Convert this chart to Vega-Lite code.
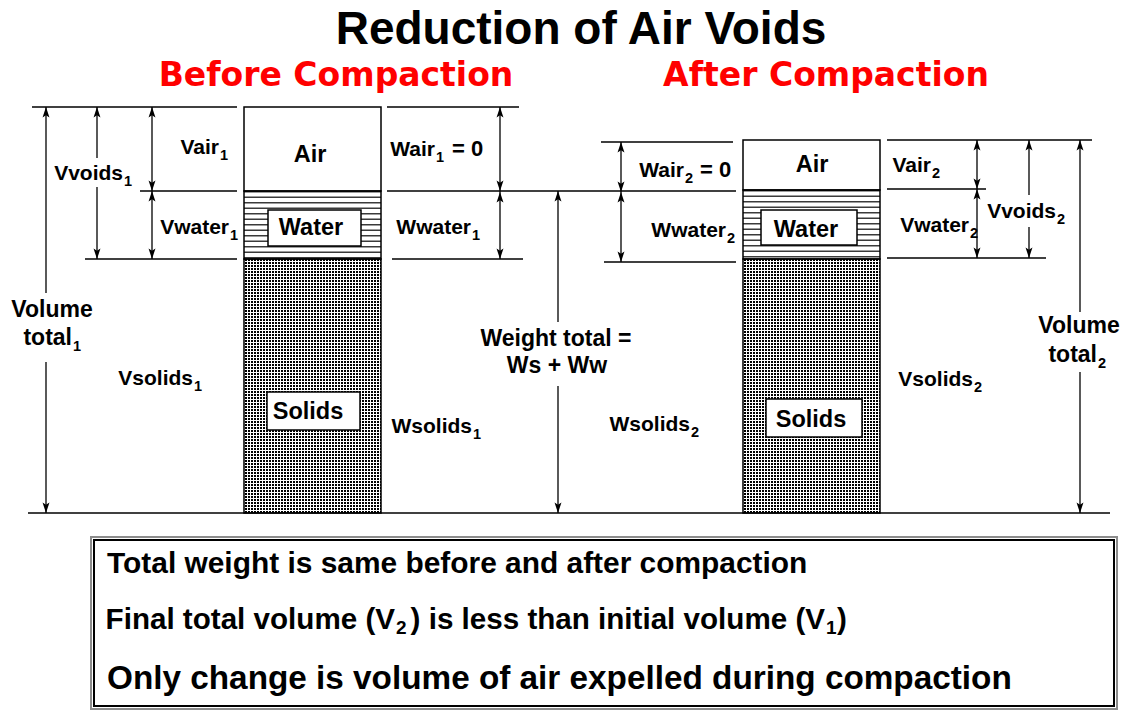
{
  "$schema": "https://vega.github.io/schema/vega-lite/v6.json",
  "width": 1127,
  "height": 712,
  "padding": 0,
  "autosize": {"type": "none"},
  "background": "white",
  "config": {"view": {"stroke": null}},
  "datasets": {
    "regions": [
      {"box": "before", "part": "air", "x": 244, "x2": 381, "y": 107, "y2": 191, "xm": 312.5, "ym": 149},
      {"box": "before", "part": "water", "x": 244, "x2": 381, "y": 191, "y2": 259, "xm": 312.5, "ym": 225},
      {"box": "before", "part": "solids", "x": 244, "x2": 381, "y": 259, "y2": 513, "xm": 312.5, "ym": 386},
      {"box": "after", "part": "air", "x": 743, "x2": 880, "y": 140, "y2": 190, "xm": 811.5, "ym": 165},
      {"box": "after", "part": "water", "x": 743, "x2": 880, "y": 190, "y2": 259, "xm": 811.5, "ym": 224.5},
      {"box": "after", "part": "solids", "x": 743, "x2": 880, "y": 259, "y2": 513, "xm": 811.5, "ym": 386}
    ],
    "labelboxes": [
      {"x": 268, "x2": 361, "y": 210, "y2": 246},
      {"x": 267, "x2": 360, "y": 392, "y2": 430},
      {"x": 761, "x2": 857, "y": 210, "y2": 245},
      {"x": 766, "x2": 862, "y": 399, "y2": 437}
    ],
    "frames": [
      {"k": "outer", "x": 91, "x2": 1117, "y": 537, "y2": 709},
      {"k": "inner", "x": 94, "x2": 1114, "y": 540, "y2": 706}
    ],
    "lines": [
      {"x": 32, "x2": 237, "y": 107, "y2": 107},
      {"x": 387, "x2": 519, "y": 107, "y2": 107},
      {"x": 140, "x2": 237, "y": 191, "y2": 191},
      {"x": 85, "x2": 237, "y": 259, "y2": 259},
      {"x": 387, "x2": 736, "y": 191, "y2": 191},
      {"x": 392, "x2": 523, "y": 259, "y2": 259},
      {"x": 601, "x2": 733, "y": 142, "y2": 142},
      {"x": 604, "x2": 736, "y": 262, "y2": 262},
      {"x": 887, "x2": 1092, "y": 140, "y2": 140},
      {"x": 887, "x2": 986, "y": 189, "y2": 189},
      {"x": 887, "x2": 1046, "y": 258, "y2": 258},
      {"x": 28, "x2": 1110, "y": 513, "y2": 513},
      {"x": 46, "x2": 46, "y": 107, "y2": 293},
      {"x": 46, "x2": 46, "y": 362, "y2": 513},
      {"x": 97, "x2": 97, "y": 107, "y2": 158},
      {"x": 97, "x2": 97, "y": 187, "y2": 259},
      {"x": 152, "x2": 152, "y": 107, "y2": 259},
      {"x": 500, "x2": 500, "y": 107, "y2": 259},
      {"x": 558, "x2": 558, "y": 191, "y2": 322},
      {"x": 558, "x2": 558, "y": 386, "y2": 513},
      {"x": 621, "x2": 621, "y": 142, "y2": 262},
      {"x": 977, "x2": 977, "y": 140, "y2": 258},
      {"x": 1029, "x2": 1029, "y": 140, "y2": 195},
      {"x": 1029, "x2": 1029, "y": 227, "y2": 258},
      {"x": 1080, "x2": 1080, "y": 140, "y2": 312},
      {"x": 1080, "x2": 1080, "y": 372, "y2": 513}
    ],
    "heads": [
      {"x": 46, "y": 107, "dir": "up"}, {"x": 46, "y": 513, "dir": "down"},
      {"x": 97, "y": 107, "dir": "up"}, {"x": 97, "y": 259, "dir": "down"},
      {"x": 152, "y": 107, "dir": "up"}, {"x": 152, "y": 191, "dir": "down"},
      {"x": 152, "y": 191, "dir": "up"}, {"x": 152, "y": 259, "dir": "down"},
      {"x": 500, "y": 107, "dir": "up"}, {"x": 500, "y": 191, "dir": "down"},
      {"x": 500, "y": 192, "dir": "up"}, {"x": 500, "y": 259, "dir": "down"},
      {"x": 558, "y": 191, "dir": "up"}, {"x": 558, "y": 513, "dir": "down"},
      {"x": 621, "y": 142, "dir": "up"}, {"x": 621, "y": 192, "dir": "down"},
      {"x": 621, "y": 192, "dir": "up"}, {"x": 621, "y": 262, "dir": "down"},
      {"x": 977, "y": 140, "dir": "up"}, {"x": 977, "y": 189, "dir": "down"},
      {"x": 977, "y": 189, "dir": "up"}, {"x": 977, "y": 258, "dir": "down"},
      {"x": 1029, "y": 140, "dir": "up"}, {"x": 1029, "y": 258, "dir": "down"},
      {"x": 1080, "y": 140, "dir": "up"}, {"x": 1080, "y": 513, "dir": "down"}
    ],
    "texts": [
      {"k": "title", "x": 581, "y": 44, "t": "Reduction of Air Voids"},
      {"k": "head", "x": 336, "y": 86, "t": "Before Compaction"},
      {"k": "head", "x": 826, "y": 86, "t": "After Compaction"},
      {"k": "lab", "x": 123, "y": 180, "t": "Vvoids"},
      {"k": "sub", "x": 124, "y": 186, "t": "1"},
      {"k": "lab", "x": 219, "y": 154, "t": "Vair"},
      {"k": "sub", "x": 220, "y": 160, "t": "1"},
      {"k": "lab", "x": 229, "y": 234, "t": "Vwater"},
      {"k": "sub", "x": 230, "y": 240, "t": "1"},
      {"k": "lab", "x": 193, "y": 385, "t": "Vsolids"},
      {"k": "sub", "x": 194, "y": 391, "t": "1"},
      {"k": "lab", "x": 435, "y": 156, "t": "Wair"},
      {"k": "sub", "x": 436, "y": 162, "t": "1"},
      {"k": "labL", "x": 452, "y": 156, "t": "= 0"},
      {"k": "lab", "x": 471, "y": 234, "t": "Wwater"},
      {"k": "sub", "x": 472, "y": 240, "t": "1"},
      {"k": "lab", "x": 472, "y": 433, "t": "Wsolids"},
      {"k": "sub", "x": 473, "y": 439, "t": "1"},
      {"k": "lab", "x": 690, "y": 431, "t": "Wsolids"},
      {"k": "sub", "x": 691, "y": 437, "t": "2"},
      {"k": "lab", "x": 684, "y": 177, "t": "Wair"},
      {"k": "sub", "x": 685, "y": 183, "t": "2"},
      {"k": "labL", "x": 700, "y": 177, "t": "= 0"},
      {"k": "lab", "x": 726, "y": 237, "t": "Wwater"},
      {"k": "sub", "x": 727, "y": 243, "t": "2"},
      {"k": "lab", "x": 931, "y": 172, "t": "Vair"},
      {"k": "sub", "x": 932, "y": 178, "t": "2"},
      {"k": "lab", "x": 969, "y": 232, "t": "Vwater"},
      {"k": "sub", "x": 970, "y": 238, "t": "2"},
      {"k": "lab", "x": 1056, "y": 218, "t": "Vvoids"},
      {"k": "sub", "x": 1057, "y": 224, "t": "2"},
      {"k": "lab", "x": 973, "y": 386, "t": "Vsolids"},
      {"k": "sub", "x": 974, "y": 392, "t": "2"},
      {"k": "big", "x": 52, "y": 317, "t": "Volume"},
      {"k": "bigR", "x": 72, "y": 345, "t": "total"},
      {"k": "sub", "x": 73, "y": 351, "t": "1"},
      {"k": "big", "x": 556, "y": 346, "t": "Weight total ="},
      {"k": "big", "x": 557, "y": 373, "t": "Ws + Ww"},
      {"k": "big", "x": 1079, "y": 333, "t": "Volume"},
      {"k": "bigR", "x": 1097, "y": 362, "t": "total"},
      {"k": "sub", "x": 1098, "y": 368, "t": "2"},
      {"k": "box", "x": 310, "y": 162, "t": "Air"},
      {"k": "box", "x": 311, "y": 235, "t": "Water"},
      {"k": "box", "x": 308, "y": 419, "t": "Solids"},
      {"k": "box", "x": 812, "y": 172, "t": "Air"},
      {"k": "box", "x": 806, "y": 237, "t": "Water"},
      {"k": "box", "x": 811, "y": 427, "t": "Solids"},
      {"k": "note1", "x": 107, "y": 573, "t": "Total weight is same before and after compaction"},
      {"k": "note2R", "x": 395, "y": 629, "t": "Final total volume (V"},
      {"k": "noteSub", "x": 396, "y": 634, "t": "2"},
      {"k": "note2R", "x": 825, "y": 629, "t": ") is less than initial volume (V"},
      {"k": "noteSub", "x": 826, "y": 634, "t": "1"},
      {"k": "note2L", "x": 837, "y": 629, "t": ")"},
      {"k": "note3", "x": 107, "y": 689, "t": "Only change is volume of air expelled during compaction"}
    ]
  },
  "layer": [
    {
      "data": {"name": "regions"},
      "transform": [{"filter": "datum.part === 'solids'"}],
      "mark": {"type": "rule", "strokeWidth": 137, "strokeDash": [2, 1], "color": "#000000"},
      "encoding": {
        "x": {"field": "xm", "type": "quantitative", "scale": {"domain": [0, 1127], "nice": false, "zero": false}, "axis": null},
        "y": {"field": "y", "type": "quantitative", "scale": {"domain": [0, 712], "nice": false, "zero": false, "reverse": true}, "axis": null},
        "y2": {"field": "y2"}
      }
    },
    {
      "data": {"name": "regions"},
      "transform": [{"filter": "datum.part === 'solids'"}],
      "mark": {"type": "rule", "strokeWidth": 254, "strokeDash": [1, 2], "color": "#ffffff"},
      "encoding": {
        "x": {"field": "x", "type": "quantitative", "axis": null},
        "x2": {"field": "x2"},
        "y": {"field": "ym", "type": "quantitative", "axis": null}
      }
    },
    {
      "data": {"name": "regions"},
      "transform": [{"filter": "datum.part === 'water'"}],
      "mark": {"type": "rule", "strokeWidth": 137, "strokeDash": [1.5, 4], "color": "#3a3a3a"},
      "encoding": {
        "x": {"field": "xm", "type": "quantitative", "axis": null},
        "y": {"field": "y", "type": "quantitative", "axis": null},
        "y2": {"field": "y2"}
      }
    },
    {
      "data": {"name": "regions"},
      "mark": {"type": "rect", "fillOpacity": 0, "stroke": "#000000", "strokeWidth": 1.5},
      "encoding": {
        "x": {"field": "x", "type": "quantitative", "axis": null},
        "x2": {"field": "x2"},
        "y": {"field": "y", "type": "quantitative", "axis": null},
        "y2": {"field": "y2"}
      }
    },
    {
      "data": {"name": "labelboxes"},
      "mark": {"type": "rect", "fill": "#ffffff", "stroke": "#000000", "strokeWidth": 1.5},
      "encoding": {
        "x": {"field": "x", "type": "quantitative", "axis": null},
        "x2": {"field": "x2"},
        "y": {"field": "y", "type": "quantitative", "axis": null},
        "y2": {"field": "y2"}
      }
    },
    {
      "data": {"name": "frames"},
      "mark": {"type": "rect", "fillOpacity": 0, "strokeWidth": 2},
      "encoding": {
        "x": {"field": "x", "type": "quantitative", "axis": null},
        "x2": {"field": "x2"},
        "y": {"field": "y", "type": "quantitative", "axis": null},
        "y2": {"field": "y2"},
        "stroke": {"field": "k", "type": "nominal", "scale": {"domain": ["outer", "inner"], "range": ["#8c8c8c", "#000000"]}, "legend": null}
      }
    },
    {
      "data": {"name": "lines"},
      "mark": {"type": "rule", "color": "#000000", "strokeWidth": 1.3},
      "encoding": {
        "x": {"field": "x", "type": "quantitative", "axis": null},
        "x2": {"field": "x2"},
        "y": {"field": "y", "type": "quantitative", "axis": null},
        "y2": {"field": "y2"}
      }
    },
    {
      "data": {"name": "heads"},
      "mark": {"type": "point", "filled": true, "opacity": 1, "color": "#000000", "size": 441, "strokeWidth": 0},
      "encoding": {
        "x": {"field": "x", "type": "quantitative", "axis": null},
        "y": {"field": "y", "type": "quantitative", "axis": null},
        "shape": {"field": "dir", "type": "nominal", "scale": {"domain": ["up", "down"], "range": ["M0,0L-0.33,1L0,0.78L0.33,1Z", "M0,0L-0.33,-1L0,-0.78L0.33,-1Z"]}, "legend": null}
      }
    },
    {
      "data": {"name": "texts"},
      "transform": [{"filter": "datum.k === 'title'"}],
      "mark": {"type": "text", "font": "Liberation Sans", "fontSize": 46, "fontWeight": "bold", "align": "center", "baseline": "alphabetic", "color": "#000000"},
      "encoding": {"x": {"field": "x", "type": "quantitative", "axis": null}, "y": {"field": "y", "type": "quantitative", "axis": null}, "text": {"field": "t"}}
    },
    {
      "data": {"name": "texts"},
      "transform": [{"filter": "datum.k === 'head'"}],
      "mark": {"type": "text", "font": "DejaVu Sans", "fontSize": 33, "fontWeight": "bold", "align": "center", "baseline": "alphabetic", "color": "#ff0000"},
      "encoding": {"x": {"field": "x", "type": "quantitative", "axis": null}, "y": {"field": "y", "type": "quantitative", "axis": null}, "text": {"field": "t"}}
    },
    {
      "data": {"name": "texts"},
      "transform": [{"filter": "datum.k === 'lab'"}],
      "mark": {"type": "text", "font": "Liberation Sans", "fontSize": 21, "fontWeight": "bold", "align": "right", "baseline": "alphabetic", "color": "#000000"},
      "encoding": {"x": {"field": "x", "type": "quantitative", "axis": null}, "y": {"field": "y", "type": "quantitative", "axis": null}, "text": {"field": "t"}}
    },
    {
      "data": {"name": "texts"},
      "transform": [{"filter": "datum.k === 'labL'"}],
      "mark": {"type": "text", "font": "Liberation Sans", "fontSize": 22, "fontWeight": "bold", "align": "left", "baseline": "alphabetic", "color": "#000000"},
      "encoding": {"x": {"field": "x", "type": "quantitative", "axis": null}, "y": {"field": "y", "type": "quantitative", "axis": null}, "text": {"field": "t"}}
    },
    {
      "data": {"name": "texts"},
      "transform": [{"filter": "datum.k === 'sub'"}],
      "mark": {"type": "text", "font": "Liberation Sans", "fontSize": 14.5, "fontWeight": "bold", "align": "left", "baseline": "alphabetic", "color": "#000000"},
      "encoding": {"x": {"field": "x", "type": "quantitative", "axis": null}, "y": {"field": "y", "type": "quantitative", "axis": null}, "text": {"field": "t"}}
    },
    {
      "data": {"name": "texts"},
      "transform": [{"filter": "datum.k === 'big'"}],
      "mark": {"type": "text", "font": "Liberation Sans", "fontSize": 23, "fontWeight": "bold", "align": "center", "baseline": "alphabetic", "color": "#000000"},
      "encoding": {"x": {"field": "x", "type": "quantitative", "axis": null}, "y": {"field": "y", "type": "quantitative", "axis": null}, "text": {"field": "t"}}
    },
    {
      "data": {"name": "texts"},
      "transform": [{"filter": "datum.k === 'bigR'"}],
      "mark": {"type": "text", "font": "Liberation Sans", "fontSize": 23, "fontWeight": "bold", "align": "right", "baseline": "alphabetic", "color": "#000000"},
      "encoding": {"x": {"field": "x", "type": "quantitative", "axis": null}, "y": {"field": "y", "type": "quantitative", "axis": null}, "text": {"field": "t"}}
    },
    {
      "data": {"name": "texts"},
      "transform": [{"filter": "datum.k === 'box'"}],
      "mark": {"type": "text", "font": "Liberation Sans", "fontSize": 23.5, "fontWeight": "bold", "align": "center", "baseline": "alphabetic", "color": "#000000"},
      "encoding": {"x": {"field": "x", "type": "quantitative", "axis": null}, "y": {"field": "y", "type": "quantitative", "axis": null}, "text": {"field": "t"}}
    },
    {
      "data": {"name": "texts"},
      "transform": [{"filter": "datum.k === 'note1'"}],
      "mark": {"type": "text", "font": "Liberation Sans", "fontSize": 29.9, "fontWeight": "bold", "align": "left", "baseline": "alphabetic", "color": "#000000"},
      "encoding": {"x": {"field": "x", "type": "quantitative", "axis": null}, "y": {"field": "y", "type": "quantitative", "axis": null}, "text": {"field": "t"}}
    },
    {
      "data": {"name": "texts"},
      "transform": [{"filter": "datum.k === 'note2R'"}],
      "mark": {"type": "text", "font": "Liberation Sans", "fontSize": 29.6, "fontWeight": "bold", "align": "right", "baseline": "alphabetic", "color": "#000000"},
      "encoding": {"x": {"field": "x", "type": "quantitative", "axis": null}, "y": {"field": "y", "type": "quantitative", "axis": null}, "text": {"field": "t"}}
    },
    {
      "data": {"name": "texts"},
      "transform": [{"filter": "datum.k === 'note2L'"}],
      "mark": {"type": "text", "font": "Liberation Sans", "fontSize": 29.6, "fontWeight": "bold", "align": "left", "baseline": "alphabetic", "color": "#000000"},
      "encoding": {"x": {"field": "x", "type": "quantitative", "axis": null}, "y": {"field": "y", "type": "quantitative", "axis": null}, "text": {"field": "t"}}
    },
    {
      "data": {"name": "texts"},
      "transform": [{"filter": "datum.k === 'noteSub'"}],
      "mark": {"type": "text", "font": "Liberation Sans", "fontSize": 19, "fontWeight": "bold", "align": "left", "baseline": "alphabetic", "color": "#000000"},
      "encoding": {"x": {"field": "x", "type": "quantitative", "axis": null}, "y": {"field": "y", "type": "quantitative", "axis": null}, "text": {"field": "t"}}
    },
    {
      "data": {"name": "texts"},
      "transform": [{"filter": "datum.k === 'note3'"}],
      "mark": {"type": "text", "font": "Liberation Sans", "fontSize": 33.3, "fontWeight": "bold", "align": "left", "baseline": "alphabetic", "color": "#000000"},
      "encoding": {"x": {"field": "x", "type": "quantitative", "axis": null}, "y": {"field": "y", "type": "quantitative", "axis": null}, "text": {"field": "t"}}
    }
  ]
}
